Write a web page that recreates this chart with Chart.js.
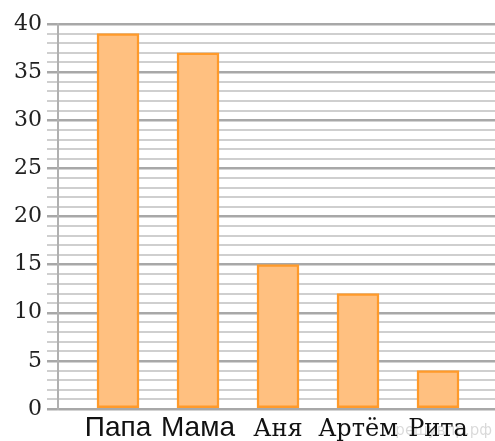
<!DOCTYPE html>
<html>
<head>
<meta charset="utf-8">
<script src="https://cdn.jsdelivr.net/npm/chart.js@4.4.0/dist/chart.umd.min.js"></script>
<style>
html,body{margin:0;padding:0;background:#fff;}
#wrap{width:495px;height:441px;position:relative;}
</style>
</head>
<body>
<div id="wrap"><canvas id="c"></canvas></div>
<script>
const categories = ['Папа', 'Мама', 'Аня', 'Артём', 'Рита'];
const values = [39, 37, 15, 12, 4];
const yTickLabels = [0, 5, 10, 15, 20, 25, 30, 35, 40];
const watermark = 'решувпр.рф';

const sansFont = {family: '"Liberation Sans", Arial, sans-serif', size: 28};
const serifFont = {family: '"DejaVu Serif", serif', size: 24, lineHeight: 1.6};

const watermarkPlugin = {
  id: 'wm',
  beforeDraw(chart) {
    const ctx = chart.ctx;
    ctx.save();
    ctx.font = '15px "DejaVu Sans", sans-serif';
    ctx.fillStyle = 'rgba(0,0,0,0.15)';
    ctx.textAlign = 'right';
    ctx.textBaseline = 'alphabetic';
    ctx.fillText(watermark, chart.width - 3, chart.height - 6);
    ctx.restore();
  }
};

new Chart(document.getElementById('c'), {
  type: 'bar',
  data: {
    datasets: [{
      data: values.map((v, i) => ({x: i, y: v})),
      backgroundColor: '#FFC080',
      borderColor: '#FF9A2A',
      borderWidth: 2.5,
      borderSkipped: false,
      barThickness: 42
    }]
  },
  options: {
    responsive: true,
    maintainAspectRatio: false,
    animation: false,
    layout: {padding: {top: 24, right: 0, bottom: 0, left: 0}},
    plugins: {legend: {display: false}, tooltip: {enabled: false}},
    scales: {
      x: {
        type: 'linear',
        min: -0.75,
        max: 4.7125,
        offset: false,
        grid: {display: false, drawTicks: false, offset: false},
        border: {display: false},
        afterFit(scale) { scale.height = 32; },
        afterBuildTicks(scale) { scale.ticks = categories.map((_, i) => ({value: i})); },
        ticks: {
          autoSkip: false,
          maxRotation: 0,
          padding: 2,
          color: '#111',
          font: (ctx) => (ctx.tick && ctx.tick.value < 2 ? sansFont : serifFont),
          callback: (v) => categories[v]
        }
      },
      y: {
        min: 0,
        max: 40,
        afterFit(scale) { scale.width = 58; },
        grid: {
          color: (ctx) => (ctx.tick && yTickLabels.includes(ctx.tick.value) ? '#a8a8a8' : '#cfcfcf'),
          lineWidth: (ctx) => (ctx.tick && yTickLabels.includes(ctx.tick.value) ? 2.5 : 2),
          tickLength: 11
        },
        border: {display: true, color: '#b0b0b0', width: 2},
        ticks: {
          stepSize: 1,
          autoSkip: false,
          padding: 5,
          color: '#222',
          font: {family: '"DejaVu Serif", serif', size: 22},
          callback: (v) => (yTickLabels.includes(v) ? String(v) : '')
        }
      }
    }
  },
  plugins: [watermarkPlugin]
});
</script>
</body>
</html>
